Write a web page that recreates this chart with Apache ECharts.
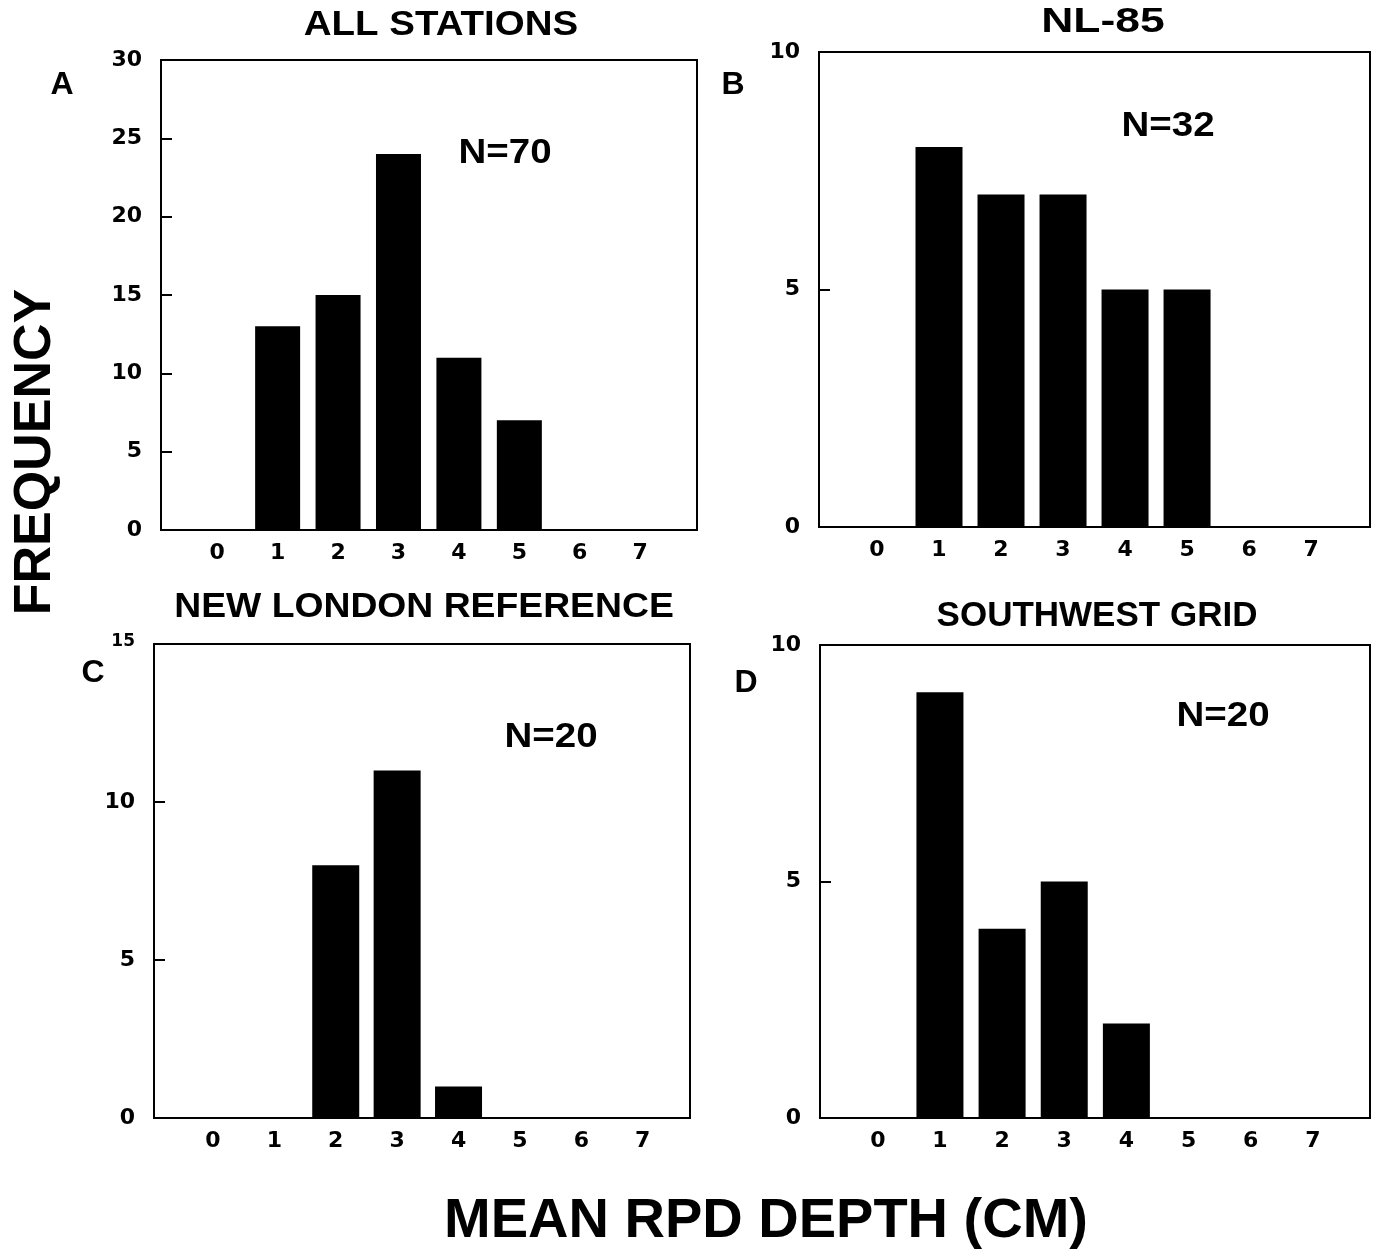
<!DOCTYPE html>
<html>
<head>
<meta charset="utf-8">
<script src="https://cdn.jsdelivr.net/npm/echarts@6/dist/echarts.min.js"></script>
<style>
  html, body { margin: 0; padding: 0; background: #fff; }
  #chart { width: 1379px; height: 1250px; }
</style>
</head>
<body>
<div id="chart"></div>
<script>
// depth classes (cm) on the x axis
const depthCats = [0, 1, 2, 3, 4, 5, 6, 7]
// frequency per depth class
const allStations = [0, 13, 15, 24, 11, 7, 0, 0]
const nl85 = [0, 8, 7, 7, 5, 5, 0, 0]
const newLondonRef = [0, 0, 8, 11, 1, 0, 0, 0]
const southwestGrid = [0, 9, 4, 5, 2, 0, 0, 0]

const panelTitles = ['ALL STATIONS', 'NL-85', 'NEW LONDON REFERENCE', 'SOUTHWEST GRID']
const panelLetters = ['A', 'B', 'C', 'D']
const sampleSizes = ['N=70', 'N=32', 'N=20', 'N=20']
const yMax = [30, 10, 15, 10]
const yStep = [5, 5, 5, 5]

const seriesData = [allStations, nl85, newLondonRef, southwestGrid]

// plot boxes
const grids = [
  { left: 161, top: 60, width: 536, height: 470 },
  { left: 819, top: 52, width: 551, height: 475 },
  { left: 154, top: 644, width: 536, height: 474 },
  { left: 820, top: 645, width: 550, height: 473 }
]
const xRange = [
  [-0.93, 7.94],
  [-0.935, 7.95],
  [-0.96, 7.77],
  [-0.93, 7.92]
]
const barWidths = [45, 47, 47, 47]

const tickFont = 'DejaVu Sans'
const textFont = '"Liberation Sans", Arial, sans-serif'

const chart = echarts.init(document.getElementById('chart'))

const option = {
  backgroundColor: '#fff',
  animation: false,
  grid: grids.map((g) => ({
    ...g,
    show: true,
    borderColor: '#000',
    borderWidth: 2,
    containLabel: false
  })),
  xAxis: grids.map((g, i) => ({
    gridIndex: i,
    type: 'value',
    min: xRange[i][0],
    max: xRange[i][1],
    splitLine: { show: false },
    axisLine: { show: false, onZero: false },
    axisTick: { show: false },
    axisLabel: {
      customValues: depthCats,
      color: '#000',
      fontFamily: tickFont,
      fontWeight: 'bold',
      fontSize: 22,
      margin: 12
    }
  })),
  yAxis: grids.map((g, i) => ({
    gridIndex: i,
    type: 'value',
    min: 0,
    max: yMax[i],
    interval: yStep[i],
    splitLine: { show: false },
    axisLine: { show: false, onZero: false },
    axisTick: {
      show: true,
      inside: true,
      length: 11,
      lineStyle: { color: '#000', width: 2 }
    },
    axisLabel: {
      color: '#000',
      fontFamily: tickFont,
      fontWeight: 'bold',
      fontSize: 22,
      margin: 19,
      formatter: (v) => (i === 2 && v === yMax[i] ? '{s|' + v + '}' : String(v)),
      rich: {
        s: { fontSize: 17, fontFamily: tickFont, fontWeight: 'bold', color: '#000', padding: [0, 0, 4, 0] }
      }
    }
  })),
  series: seriesData.map((arr, i) => ({
    type: 'bar',
    xAxisIndex: i,
    yAxisIndex: i,
    barWidth: barWidths[i],
    itemStyle: { color: '#000' },
    data: depthCats.map((d, k) => [d, arr[k]])
  })),
  graphic: [
    // panel titles
    ...[[441, 25, 1.1], [1103, 22, 1.27], [424, 607, 1.066], [1097, 616, 1.0]].map((p, i) => ({
      type: 'text',
      x: p[0],
      y: p[1],
      scaleX: p[2],
      style: {
        text: panelTitles[i],
        font: 'bold 35px ' + textFont,
        fill: '#000',
        textAlign: 'center',
        textVerticalAlign: 'middle'
      }
    })),
    // panel letters
    ...[[62, 85], [733, 85], [93, 673], [746, 683]].map((p, i) => ({
      type: 'text',
      x: p[0],
      y: p[1],
      style: {
        text: panelLetters[i],
        font: 'bold 32px ' + textFont,
        fill: '#000',
        textAlign: 'center',
        textVerticalAlign: 'middle'
      }
    })),
    // sample sizes
    ...[[505, 153], [1168, 126], [551, 737], [1223, 716]].map((p, i) => ({
      type: 'text',
      x: p[0],
      y: p[1],
      scaleX: 1.1,
      style: {
        text: sampleSizes[i],
        font: 'bold 35px ' + textFont,
        fill: '#000',
        textAlign: 'center',
        textVerticalAlign: 'middle'
      }
    })),
    {
      type: 'text',
      x: 36,
      y: 452,
      rotation: Math.PI / 2,
      style: {
        text: 'FREQUENCY',
        font: 'bold 52px ' + textFont,
        fill: '#000',
        textAlign: 'center',
        textVerticalAlign: 'middle'
      }
    },
    {
      type: 'text',
      x: 766,
      y: 1222,
      style: {
        text: 'MEAN RPD DEPTH (CM)',
        font: 'bold 56px ' + textFont,
        fill: '#000',
        textAlign: 'center',
        textVerticalAlign: 'middle'
      }
    }
  ]
}

chart.setOption(option)
</script>
</body>
</html>
